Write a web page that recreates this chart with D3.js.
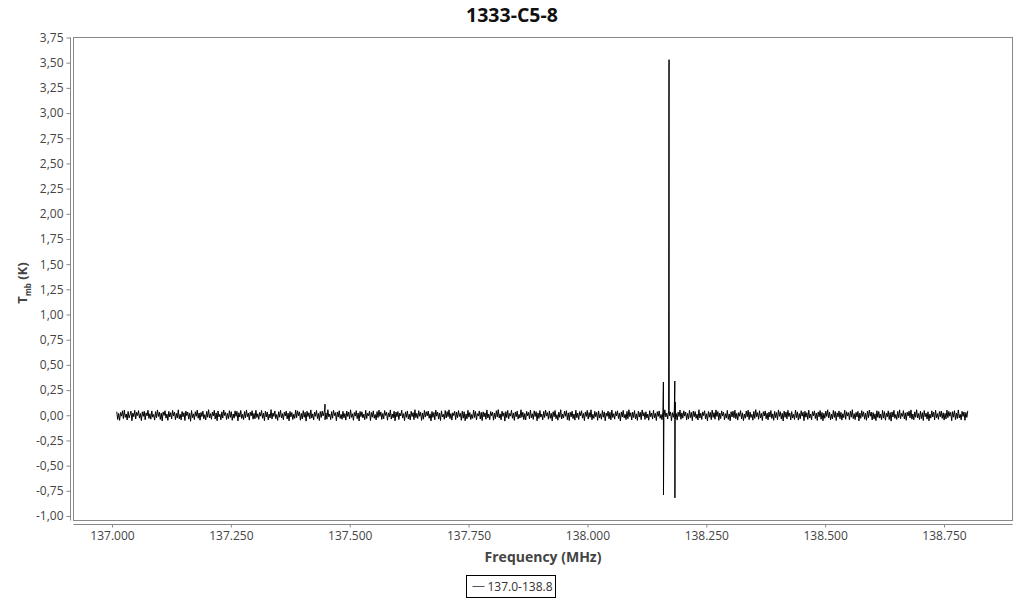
<!DOCTYPE html>
<html>
<head>
<meta charset="utf-8">
<script src="https://cdn.jsdelivr.net/npm/d3@7"></script>
<style>
  body { margin: 0; background: #fff; }
  svg { font-family: "Open Sans", "Noto Sans", sans-serif; }
</style>
</head>
<body>
<svg id="chart" width="1024" height="600"></svg>
<script>
"use strict";

// spectrum 1333-C5-8, band 137.0-138.8 MHz
var chartTitle = "1333-C5-8"
var seriesName = "137.0-138.8"
var freqStart = 137.010
var freqEnd = 138.800

// baseline channels, in mK
var baselineMK = [
  35,-42,18,-51,27,-9,44,-33,52,-21,13,-47,38,-26,5,41,-55,22,-14,49,-37,29,-3,46,-28,17,-53,34,-11,40,
  -45,24,-6,50,-31,15,-39,43,-19,8,-48,36,-24,53,-12,30,-41,21,-57,33,-2,45,-29,12,-50,39,-17,26,-36,48,
  -8,31,-44,19,-27,54,-35,10,-46,37,-15,25,-52,42,-4,32,-38,20,-59,47,-23,14,-43,35,-10,51,-30,23,-49,28,
  -13,41,-34,6,-47,38,-20,55,-26,16,-40,30,-7,49,-37,24,-54,43,-16,11,-45,34,-28,52,-3,27,-42,18,-33,46,
  -21,36,-50,13,-29,44,-11,39,-56,25,-18,48,-32,9,-43,37,-25,53,-14,22,-48,31,-6,45,-39,19,-35,50,-22,15,
  -41,28,-9,47,-30,20,-53,40,-17,33,-46,12,-27,56,-38,23,-12,43,-34,7,-51,35,-19,49,-26,16,-44,30,-8,42,
  -36,21,-55,38,-15,27,-42,10,-31,51,-24,44,-5,34,-49,18,-37,46,-20,29,-58,40,-13,25,-35,53,-28,14,-47,32,
  -10,48,-33,19,-52,37,-22,41,-7,30,-45,24,-39,55,-16,12,-43,36,-29,50,-4,26,-54,33,-18,45,-31,9,-40,39,
  -25,17,-48,42,-12,31,-36,54,-21,15,-50,28,-9,46,-34,22,-57,38,-14,35,-27,11,-44,49,-32,20,-6,41,-53,27,
  -19,44,-30,8,-46,36,-23,52,-11,33,-41,18,-35,47,-2,29,-49,24,-17,53,-38,13,-26,40,-55,31,-15,37,-42,21,
  -7,50,-28,16,-53,34,-20,43,-37,11,-47,39,-13,26,-44,55,-24,19,-32,45,-10,30,-51,23,-39,48,-18,35,-6,42,
  -30,14,-56,37,-21,28,-45,51,-9,32,-38,22,-52,44,-16,10,-40,47,-27,36,-14,54,-33,17,-48,25,-3,39,-43,31,
  -24,46,-12,20,-50,41,-29,35,-55,13,-36,49,-19,27,-42,8,-31,52,-22,38,-47,16,-8,43,-37,29,-53,34,-15,24,
  -40,53,-26,12,-44,37,-4,31,-49,21,-33,45,-17,56,-28,14,-46,40,-11,25,-58,36,-23,48,-35,18,-9,50,-30,22,
  -51,33,-14,42,-38,9,-27,54,-20,30,-43,17,-47,39,-6,28,-35,51,-25,15,-41,44,-12,36,-54,23,-31,47,-18,11,
  -45,38,-22,52,-8,26,-39,43,-30,19,-56,35,-15,48,-34,6,-49,31,-21,55,-37,12,-28,41,-10,46,-44,24,-52,30,
  -16,40,-33,13,-48,50,-24,21,-42,36,-5,45,-29,18,-53,32,-12,49,-38,27,-20,54,-45,9,-31,39,-14,28,-50,43,
  -27,15,-40,47,-19,34,-55,22,-10,41,-35,29,-46,52,-23,16,-39,37,-7,44,-32,20,-57,33,-17,48,-26,10,-43,38,
  -34,55,-13,25,-47,31,-22,46,-36,14,-51,40,-18,30,-44,53,-9,27,-41,35,-28,12,-49,45,-15,23,-38,50,-24,19,
  -52,36,-11,43,-30,8,-45,39,-25,54,-16,21,-37,47,-6,33,-54,26,-20,42,-35,17,-48,31,-13,52,-40,24,-29,44,
  -9,32,-46,18,-38,49,-23,28,-53,41,-14,36,-31,11,-47,55,-27,20,-42,34,-4,45,-36,15,-56,38,-19,29,-44,51,
  -21,26,-39,53,-12,37,-50,22,-33,44,-8,30,-45,16,-28,48,-41,13,-55,35,-17,40,-25,50,-34,19,-48,27,-10,46,
  -37,24,-53,12,-29,42,-16,51,-43,33,-22,9,-49,38,-31,56,-14,26,-40,45,-26,18,-52,36,-7,43,-35,21,-46,32,
  -18,47,-32,14,-50,39,-24,27,-44,53,-11,35,-38,20,-57,41,-20,31,-36,49,-13,23,-47,37,-28,10,-42,52,-23,34,
  -48,17,-35,45,-9,30,-54,40,-19,25,-41,50,-27,13,-45,36,-6,44,-32,22,-51,33,-15,47,-39,28,-55,19,-30,41,
  -12,54,-26,31,-46,11,-37,48,-21,38,-52,24,-16,43,-34,29,-48,15,-23,51,-40,35,-8,26,-45,40,-19,55,-33,16,
  -43,29,-17,39,-56,22,-31,46,-13,34,-39,18,-50,42,-25,52,-10,32,-47,27,-36,14,-53,45,-22,37,-29,12,-44,49,
  -28,36,-49,20,-15,44,-42,27,-58,33,-18,49,-30,8,-41,38,-24,54,-35,19,-11,46,-37,24,-50,30,-7,41,-26,53,
  -39,13,-45,34,-20,55,-27,17,-43,40,-33,26,-52,47,-14,21,-38,35,-55,12,-29,44,-17,31,-46,50,-24,16,-41,37,
  -15,42,-31,25,-48,18,-36,51,-23,38,-9,29,-54,36,-19,45,-43,22,-32,53,-27,10,-46,39,-12,33,-50,27,-21,44
]

// line features (MHz, K)
var lineFreqs = [137.4475, 137.4480, 138.1598, 138.1600, 138.1714, 138.1717, 138.1720, 138.1838, 138.1840, 138.1846]
var lineTemps = [0.06, 0.11, 0.33, -0.79, 3.12, 3.53, 0.05, 0.34, -0.82, 0.13]

var yTicks = [-1.0, -0.75, -0.5, -0.25, 0, 0.25, 0.5, 0.75, 1.0, 1.25, 1.5, 1.75, 2.0, 2.25, 2.5, 2.75, 3.0, 3.25, 3.5, 3.75]
var xTicks = [137.0, 137.25, 137.5, 137.75, 138.0, 138.25, 138.5, 138.75]

var svg = d3.select("#chart")
var plot = { left: 73.5, right: 1012.5, top: 37.5, bottom: 520.5 }

var x = d3.scaleLinear().domain([137.0, 138.75]).range([112, 944])
var y = d3.scaleLinear().domain([-1.0, 3.75]).range([516, 37.5])

var commaLocale = d3.formatLocale({ decimal: ",", thousands: ".", grouping: [3], currency: ["", ""], minus: "-" })
var dotLocale = d3.formatLocale({ decimal: ".", thousands: ",", grouping: [3], currency: ["", ""], minus: "-" })

// build the point list: baseline channels plus line channels, sorted by frequency
var step = (freqEnd - freqStart) / (baselineMK.length - 1)
var points = baselineMK.map(function(v, i) {
  return { f: freqStart + i * step, t: v / 1000 }
})
lineFreqs.forEach(function(f, i) {
  points.push({ f: f, t: lineTemps[i] })
})
points.sort(function(a, b) { return a.f - b.f })

var grey = "#888"
var textCol = "#444"

// plot frame
svg.append("rect")
  .attr("x", plot.left)
  .attr("y", plot.top)
  .attr("width", plot.right - plot.left)
  .attr("height", plot.bottom - plot.top)
  .style("fill", "none")
  .style("stroke", grey)

// y axis, offset to the left of the frame
var yAxis = svg.append("g")
  .attr("transform", "translate(70.5,0)")
  .call(d3.axisLeft(y).tickValues(yTicks).tickSize(4).tickSizeOuter(0)
    .tickFormat(commaLocale.format(".2f")))
yAxis.select(".domain").attr("d", "M0," + plot.top + "V" + plot.bottom)

// x axis, below the frame
var xAxis = svg.append("g")
  .attr("transform", "translate(0,524.5)")
  .call(d3.axisBottom(x).tickValues(xTicks).tickSize(3).tickSizeOuter(0)
    .tickFormat(dotLocale.format(".3f")))
xAxis.select(".domain").attr("d", "M" + plot.left + ",0H" + plot.right)

svg.selectAll(".domain, .tick line").style("stroke", grey)
svg.selectAll(".tick text")
  .style("fill", textCol)
  .style("font-size", "12px")
  .style("font-family", "'Open Sans', 'Noto Sans', sans-serif")
yAxis.selectAll(".tick text").attr("x", -7)
xAxis.selectAll(".tick text").attr("y", 7)

// spectrum
var line = d3.line()
  .x(function(d) { return x(d.f) })
  .y(function(d) { return y(d.t) })

svg.append("path")
  .datum(points)
  .attr("d", line)
  .style("fill", "none")
  .style("stroke", "#000")
  .style("stroke-width", 1)

// title and axis labels
svg.append("text")
  .attr("x", 512)
  .attr("y", 22)
  .attr("text-anchor", "middle")
  .style("font-size", "19.5px")
  .style("font-weight", "bold")
  .style("fill", "#111")
  .text(chartTitle)

svg.append("text")
  .attr("x", (plot.left + plot.right) / 2)
  .attr("y", 562)
  .attr("text-anchor", "middle")
  .style("font-size", "14px")
  .style("font-weight", "bold")
  .style("fill", textCol)
  .text("Frequency (MHz)")

var yLabel = svg.append("text")
  .attr("transform", "translate(27," + ((plot.top + plot.bottom) / 2 + 4) + ") rotate(-90)")
  .attr("text-anchor", "middle")
  .style("font-size", "13px")
  .style("font-weight", "bold")
  .style("fill", textCol)
yLabel.append("tspan").text("T")
yLabel.append("tspan").attr("dy", 4).style("font-size", "8px").text("mb")
yLabel.append("tspan").attr("dy", -4).text(" (K)")

// legend
var legend = svg.append("g").attr("transform", "translate(466.5,575.5)")
legend.append("rect")
  .attr("width", 89)
  .attr("height", 22)
  .style("fill", "#fff")
  .style("stroke", "#000")
legend.append("line")
  .attr("x1", 6).attr("x2", 18)
  .attr("y1", 11).attr("y2", 11)
  .style("stroke", "#555")
legend.append("text")
  .attr("x", 21)
  .attr("y", 15.5)
  .style("font-size", "12px")
  .style("fill", "#333")
  .text(seriesName)
</script>
</body>
</html>
